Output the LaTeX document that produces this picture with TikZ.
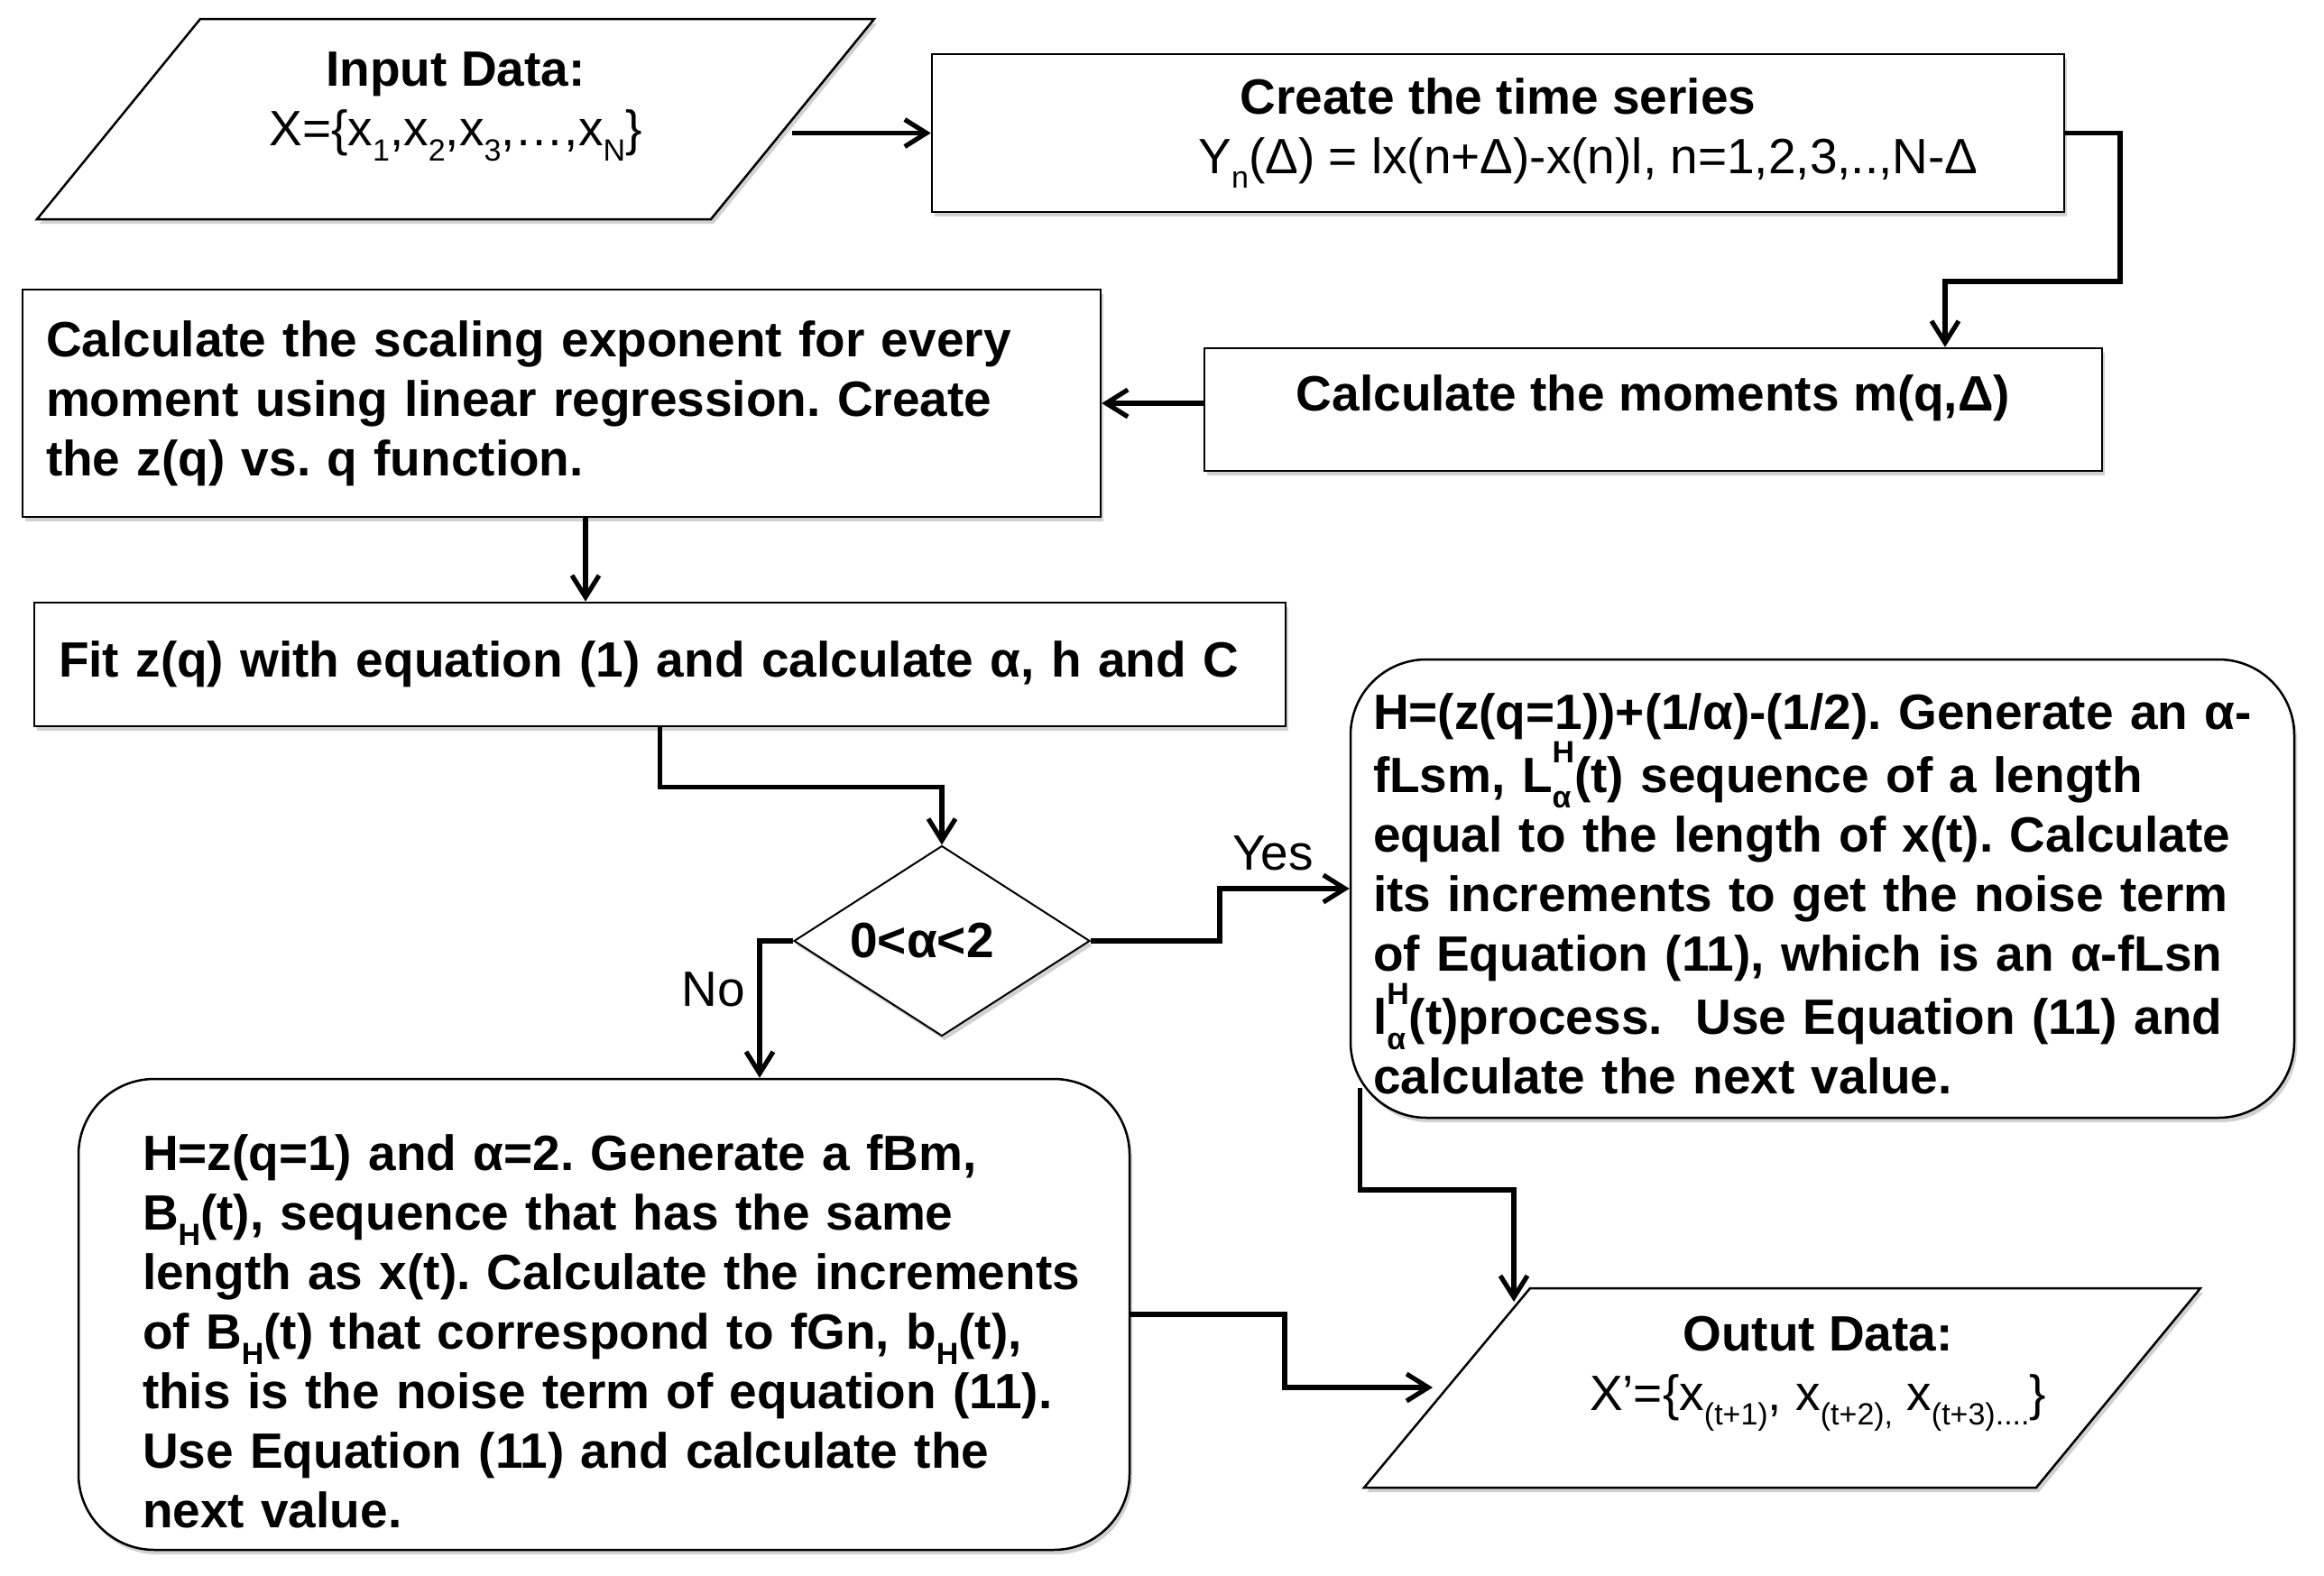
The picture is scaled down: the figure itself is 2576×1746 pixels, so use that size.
\documentclass[tikz,border=0pt]{standalone}
\usepackage{fontspec}
\setmainfont{Liberation Sans}
\usetikzlibrary{shapes.geometric,arrows.meta,shadows,calc}
\newcommand{\mysub}[1]{\raisebox{-0.3em}{\fontsize{17pt}{17pt}\selectfont #1}}
\newcommand{\mysup}[1]{\raisebox{0.6em}{\fontsize{17pt}{17pt}\selectfont #1}}
\newcommand{\mysubsup}[2]{\makebox[0pt][l]{\mysub{#1}}\mysup{#2}}
\newcommand{\lin}[1]{\mbox{#1}}
\frenchspacing
\begin{document}
\begin{tikzpicture}[x=0.5pt,y=-0.5pt,
  txt/.style={font=\fontsize{27.5pt}{33pt}\selectfont},
  btxt/.style={font=\fontsize{27.5pt}{33pt}\selectfont\bfseries},
  shad/.style={drop shadow={shadow xshift=1.5pt,shadow yshift=-2.5pt,fill=black,opacity=0.18}},
  box/.style={draw,line width=1.25pt,fill=white,inner sep=0pt,shad},
  rbox/.style={box,rounded corners=42pt},
  pshape/.style={draw,line width=1.25pt,fill=white,shad},
  conn/.style={line width=2.6pt,-{Straight Barb[length=12pt,width=15pt]}}]
\fill[white] (0,0) rectangle (2576,1746);
\useasboundingbox (0,0) rectangle (2576,1746);

% parallelograms
\coordinate (inA) at (222,21);
\coordinate (inB) at (969,21);
\coordinate (inC) at (788,243);
\coordinate (inD) at (41,243);
\path[pshape] (inA) -- (inB) -- (inC) -- (inD) -- cycle;
\coordinate (inR) at (878,147.5);
\node[txt,align=center] (intxt) at (505,118) {{\bfseries Input Data:}\\X=\{x\mysub{1},x\mysub{2},x\mysub{3},…,x\mysub{N}\}};

\coordinate (outA) at (1696,1428);
\coordinate (outB) at (2439,1428);
\coordinate (outC) at (2257,1649);
\coordinate (outD) at (1512,1649);
\path[pshape] (outA) -- (outB) -- (outC) -- (outD) -- cycle;
\node[txt,align=center] (outtxt) at (2015,1523) {{\bfseries Outut Data:}\\X’=\{x\mysub{(t+1)}, x\mysub{(t+2),} x\mysub{(t+3)....}\}};

% boxes
\node[box,btxt,align=center,minimum width=627.5pt,minimum height=87.5pt] (create) at (1660.5,147.5)
  {Create the time series\\\hspace*{100pt}{\mdseries Y\mysub{n}(Δ) = lx(n+Δ)-x(n)l, n=1,2,3,..,N-Δ}};

\node[box,btxt,minimum width=497.5pt,minimum height=68pt] (mom) at (1832.5,454)
  {\raisebox{18pt}{Calculate the moments m(q,Δ)}};

\node[box,btxt,align=left,inner xsep=13pt,text width=571.5pt,minimum height=126pt] (scal) at (622.5,447)
  {\lin{Calculate the scaling exponent for every}\\\lin{moment using linear regression. Create}\\\lin{the z(q) vs. q function.}};

\node[box,btxt,align=left,inner xsep=13.5pt,text width=666.5pt,minimum height=68.5pt] (fit) at (731.5,736.5)
  {\lin{Fit z(q) with equation (1) and calculate α, h and C}};

\node[diamond,aspect=1.55,draw,line width=1pt,fill=white,inner sep=0pt,shad,btxt,minimum width=164pt,minimum height=105.5pt] (dec) at (1044,1043)
  {0<α<2\hspace*{22pt}};

\node[rbox,btxt,align=left,inner xsep=12.5pt,text width=498pt,minimum height=254pt] (yes) at (2020,985)
  {\lin{\rule{0pt}{26pt}H=(z(q=1))+(1/α)-(1/2). Generate an α-}\\
   \lin{fLsm, L\mysubsup{α}{H}(t) sequence of a length}\\
   \lin{equal to the length of x(t). Calculate}\\
   \lin{its increments to get the noise term}\\
   \lin{of Equation (11), which is an α-fLsn}\\
   \lin{l\mysubsup{α}{H}(t)process.\ \ Use Equation (11) and}\\
   \lin{calculate the next value.}};

\node[rbox,btxt,align=left,inner xsep=35.5pt,text width=511.5pt,minimum height=261pt] (no) at (669.5,1457)
  {\lin{\rule{0pt}{39pt}H=z(q=1) and α=2. Generate a fBm,}\\
   \lin{B\mysub{H}(t), sequence that has the same}\\
   \lin{length as x(t). Calculate the increments}\\
   \lin{of B\mysub{H}(t) that correspond to fGn, b\mysub{H}(t),}\\
   \lin{this is the noise term of equation (11).}\\
   \lin{Use Equation (11) and calculate the}\\
   \lin{next value.}};

% labels
\node[txt] (ylab) at (1411,946) {Yes};
\node[txt] (nlab) at (791,1097) {No};

% helper coordinates
\coordinate (c1) at (2350,312);
\coordinate (c2) at (2156,312);
\coordinate (c4) at (649,0);
\coordinate (c6) at (1352,0);
\coordinate (c7) at (842,0);
\coordinate (c9) at (1424,0);
\coordinate (c8s) at ($(yes.south west)+(12,-34)$);
\coordinate (c8m) at (1678,1319);
\coordinate (c8e) at (1678,1443);
\coordinate (c9e) at (1588,1538);

% connectors
\draw[conn] (inR |- create.west) -- (create.west);
\draw[conn] (create.east) -| (c1) -- (c2) -- (c2 |- mom.north);
\draw[conn] (mom.west |- scal.east) -- (scal.east);
\draw[conn] (scal.south -| c4) -- (fit.north -| c4);
\draw[conn] (fit.south) -- ++(0,66) -| (dec.north);
\draw[conn] (dec.east) -- (dec.east -| c6) |- (yes.west);
\draw[conn] (dec.west) -| (no.north -| c7);
\draw[conn] (c8s) |- (c8m) -- (c8e);
\draw[conn] (no.east) -- (no.east -| c9) |- (c9e);
\end{tikzpicture}
\end{document}
